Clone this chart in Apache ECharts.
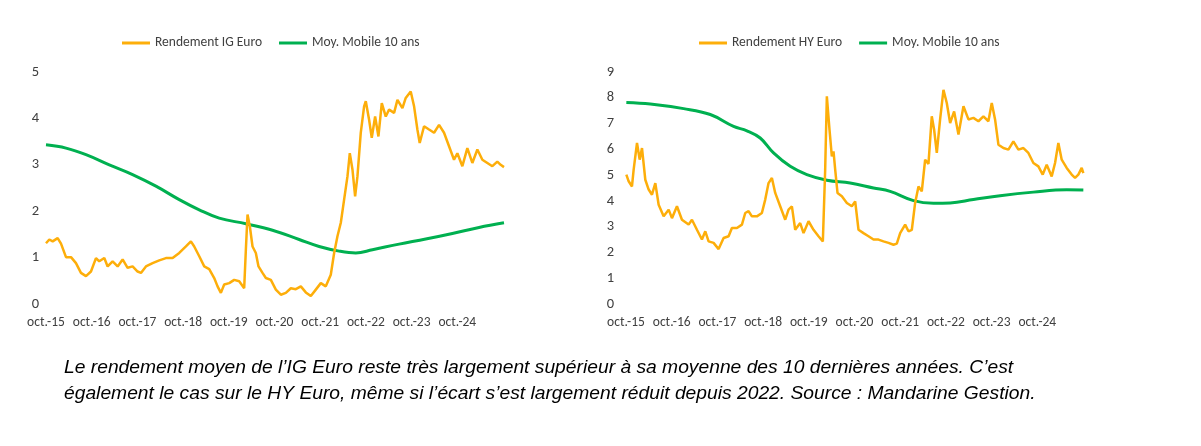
<!DOCTYPE html>
<html>
<head>
<meta charset="utf-8">
<script src="https://cdn.jsdelivr.net/npm/echarts@6/dist/echarts.min.js"></script>
<style>
  html, body { margin: 0; padding: 0; background: #fff; }
  #main { width: 1201px; height: 446px; }
</style>
</head>
<body>
<div id="main"></div>
<script>
// x = mois depuis oct. 2015, y = rendement (%)
var igMonths = [0, 0.87, 1.75, 3.06, 3.94, 5.25, 6.56, 7.87, 9.18, 10.5, 11.81, 13.12, 13.99, 15.31, 16.18, 17.49, 18.81, 20.12, 21.43, 22.74, 24.05, 24.93, 26.24, 27.99, 29.74, 31.49, 33.24, 34.99, 36.74, 38.05, 38.92, 40.24, 41.55, 42.86, 44.17, 45.05, 45.92, 46.79, 48.11, 49.42, 50.73, 52.04, 52.48, 52.92, 53.53, 54.23, 55.1, 55.8, 56.85, 57.73, 59.04, 60.35, 61.66, 62.98, 64.29, 65.6, 66.91, 68.22, 69.54, 70.85, 72.16, 73.47, 74.78, 75.66, 76.53, 77.41, 78.28, 79.16, 79.77, 80.47, 81.17, 81.78, 82.65, 83.53, 83.97, 84.84, 85.54, 86.42, 87.29, 88.17, 89.22, 90.09, 91.4, 92.28, 93.59, 94.46, 95.77, 96.65, 97.52, 98.13, 99.27, 100.58, 101.9, 103.21, 104.52, 105.83, 107.14, 108.02, 109.33, 110.64, 111.95, 113.27, 114.58, 115.89, 117.2, 118.51, 119.39, 120.26];
var igYield = [1.31, 1.39, 1.35, 1.42, 1.30, 1.01, 1.01, 0.88, 0.67, 0.60, 0.70, 0.99, 0.92, 0.99, 0.81, 0.92, 0.81, 0.96, 0.78, 0.81, 0.70, 0.67, 0.81, 0.88, 0.94, 0.99, 0.99, 1.10, 1.24, 1.35, 1.24, 1.03, 0.81, 0.75, 0.56, 0.38, 0.24, 0.42, 0.45, 0.52, 0.49, 0.34, 1.17, 1.93, 1.67, 1.24, 1.10, 0.81, 0.67, 0.56, 0.52, 0.31, 0.20, 0.24, 0.34, 0.32, 0.38, 0.25, 0.17, 0.31, 0.45, 0.38, 0.63, 1.10, 1.46, 1.75, 2.25, 2.75, 3.25, 2.90, 2.32, 2.75, 3.69, 4.26, 4.37, 3.97, 3.58, 4.04, 3.61, 4.33, 4.04, 4.19, 4.12, 4.40, 4.22, 4.44, 4.58, 4.26, 3.76, 3.47, 3.83, 3.76, 3.69, 3.86, 3.69, 3.40, 3.11, 3.25, 2.97, 3.36, 3.04, 3.33, 3.11, 3.04, 2.97, 3.07, 3.00, 2.95];
var igMaMonths = [0, 5.25, 10.5, 16.62, 22.74, 28.86, 34.99, 40.24, 45.48, 52.48, 59.48, 66.47, 71.72, 76.97, 81.34, 85.72, 92.72, 99.71, 106.71, 113.7, 120.26];
var igMa = [3.43, 3.36, 3.22, 3.00, 2.79, 2.54, 2.25, 2.03, 1.85, 1.73, 1.59, 1.39, 1.24, 1.14, 1.10, 1.17, 1.29, 1.40, 1.52, 1.65, 1.75];

var hyMonths = [0.09, 0.7, 1.57, 2.01, 2.89, 3.59, 4.2, 5.07, 5.95, 6.82, 7.7, 8.57, 9.88, 11.2, 12.07, 13.38, 14.69, 16.44, 17.32, 18.63, 19.94, 20.82, 21.69, 23.0, 24.32, 25.63, 26.94, 27.81, 29.13, 30.44, 31.31, 32.19, 33.06, 34.37, 35.68, 36.56, 37.43, 38.31, 39.18, 40.49, 41.81, 42.68, 43.56, 44.43, 45.74, 46.62, 47.93, 49.24, 50.55, 51.69, 52.3, 52.74, 53.44, 54.05, 54.49, 54.93, 55.54, 56.68, 57.99, 59.3, 60.18, 61.05, 62.36, 63.68, 64.99, 66.3, 67.61, 68.92, 70.24, 71.11, 71.99, 73.3, 74.17, 75.05, 75.92, 76.8, 77.67, 78.55, 79.42, 80.29, 80.91, 81.61, 82.48, 83.36, 84.23, 85.11, 86.16, 87.3, 88.61, 89.92, 91.23, 92.54, 93.85, 95.16, 96.04, 96.91, 97.79, 99.1, 100.41, 101.72, 103.04, 104.35, 105.66, 106.97, 108.28, 109.42, 110.47, 111.78, 112.66, 113.53, 114.41, 115.72, 117.03, 117.91, 118.78, 119.66, 120.09];
var hyYield = [5.02, 4.76, 4.56, 5.21, 6.25, 5.60, 6.05, 4.82, 4.44, 4.24, 4.69, 3.85, 3.40, 3.66, 3.33, 3.79, 3.27, 3.08, 3.27, 2.88, 2.50, 2.82, 2.43, 2.37, 2.13, 2.56, 2.63, 2.95, 2.95, 3.08, 3.53, 3.60, 3.40, 3.40, 3.53, 4.05, 4.69, 4.89, 4.31, 3.79, 3.27, 3.66, 3.79, 2.88, 3.14, 2.75, 3.21, 2.88, 2.63, 2.43, 5.21, 8.06, 6.76, 5.73, 5.92, 5.21, 4.31, 4.18, 3.92, 3.79, 3.98, 2.88, 2.75, 2.63, 2.50, 2.50, 2.43, 2.37, 2.30, 2.34, 2.75, 3.08, 2.82, 2.88, 3.92, 4.56, 4.37, 5.60, 5.43, 7.28, 6.76, 5.86, 7.16, 8.31, 7.80, 7.02, 7.47, 6.57, 7.67, 7.16, 7.22, 7.09, 7.28, 7.09, 7.80, 7.16, 6.18, 6.05, 5.99, 6.31, 5.99, 6.05, 5.86, 5.47, 5.34, 5.02, 5.40, 4.95, 5.47, 6.25, 5.60, 5.28, 5.02, 4.89, 5.02, 5.28, 5.08];
var hyMaMonths = [0.09, 6.38, 15.13, 22.13, 28.25, 31.75, 35.24, 38.74, 43.12, 47.49, 52.74, 58.86, 64.99, 69.36, 75.48, 80.73, 85.11, 91.23, 98.23, 106.97, 115.72, 120.09];
var hyMa = [7.82, 7.76, 7.58, 7.35, 6.89, 6.72, 6.44, 5.86, 5.34, 5.02, 4.80, 4.69, 4.50, 4.37, 4.01, 3.91, 3.92, 4.05, 4.20, 4.34, 4.43, 4.42];

var xTickLabel = function (v) {
  if (v >= 120) return '';
  return 'oct.-' + (15 + v / 12);
};

function pairs(xs, ys) {
  return xs.map(function (x, i) { return [x, ys[i]]; });
}

var orange = '#FDAE0A';
var green = '#00B050';
var fontFam = 'Carlito, Lato, sans-serif';

var chart = echarts.init(document.getElementById('main'));

function xAx(gi) {
  return {
    type: 'value', gridIndex: gi, min: 0, max: 120, interval: 12,
    axisLine: { show: false }, axisTick: { show: false }, splitLine: { show: false },
    axisLabel: { formatter: xTickLabel, color: '#404040', fontSize: 13.5, fontFamily: fontFam, margin: 12, showMaxLabel: false }
  };
}
function yAx(gi, max, margin) {
  return {
    type: 'value', gridIndex: gi, min: 0, max: max, interval: 1,
    axisLine: { show: false }, axisTick: { show: false }, splitLine: { show: false },
    axisLabel: { color: '#404040', fontSize: 14.5, fontFamily: fontFam, margin: margin }
  };
}
function legendItem(name, color) {
  return { name: name, icon: 'rect', itemStyle: { color: color } };
}

chart.setOption({
  animation: false,
  legend: [
    {
      left: 117, top: 31, itemWidth: 28, itemHeight: 3, itemGap: 17,
      textStyle: { color: '#404040', fontSize: 13.5, fontFamily: fontFam },
      data: [legendItem('Rendement IG Euro', orange), legendItem('Moy. Mobile 10 ans', green)]
    },
    {
      left: 694, top: 31, itemWidth: 28, itemHeight: 3, itemGap: 17,
      textStyle: { color: '#404040', fontSize: 13.5, fontFamily: fontFam },
      data: [legendItem('Rendement HY Euro', orange), legendItem('Moy. Mobile 10 ans ', green)]
    }
  ],
  grid: [
    { left: 46, top: 72, width: 457, height: 232 },
    { left: 626, top: 72, width: 457, height: 232 }
  ],
  xAxis: [xAx(0), xAx(1)],
  yAxis: [yAx(0, 5, 7), yAx(1, 9, 12)],
  series: [
    { name: 'Moy. Mobile 10 ans', type: 'line', xAxisIndex: 0, yAxisIndex: 0, data: pairs(igMaMonths, igMa),
      smooth: 0.4, showSymbol: false, lineStyle: { color: green, width: 3 }, itemStyle: { color: green } },
    { name: 'Rendement IG Euro', type: 'line', xAxisIndex: 0, yAxisIndex: 0, data: pairs(igMonths, igYield),
      showSymbol: false, lineStyle: { color: orange, width: 2.5 }, itemStyle: { color: orange } },
    { name: 'Moy. Mobile 10 ans ', type: 'line', xAxisIndex: 1, yAxisIndex: 1, data: pairs(hyMaMonths, hyMa),
      smooth: 0.4, showSymbol: false, lineStyle: { color: green, width: 3 }, itemStyle: { color: green } },
    { name: 'Rendement HY Euro', type: 'line', xAxisIndex: 1, yAxisIndex: 1, data: pairs(hyMonths, hyYield),
      showSymbol: false, lineStyle: { color: orange, width: 2.5 }, itemStyle: { color: orange } }
  ],
  graphic: [
    { type: 'text', left: 64, top: 358,
      style: { text: 'Le rendement moyen de l\u2019IG Euro reste très largement supérieur à sa moyenne des 10 dernières années. C\u2019est', fill: '#000', font: 'italic 19.25px "Liberation Sans", Arial, sans-serif' } },
    { type: 'text', left: 64, top: 384,
      style: { text: 'également le cas sur le HY Euro, même si l\u2019écart s\u2019est largement réduit depuis 2022. Source : Mandarine Gestion.', fill: '#000', font: 'italic 19.25px "Liberation Sans", Arial, sans-serif' } }
  ]
});
</script>
</body>
</html>
